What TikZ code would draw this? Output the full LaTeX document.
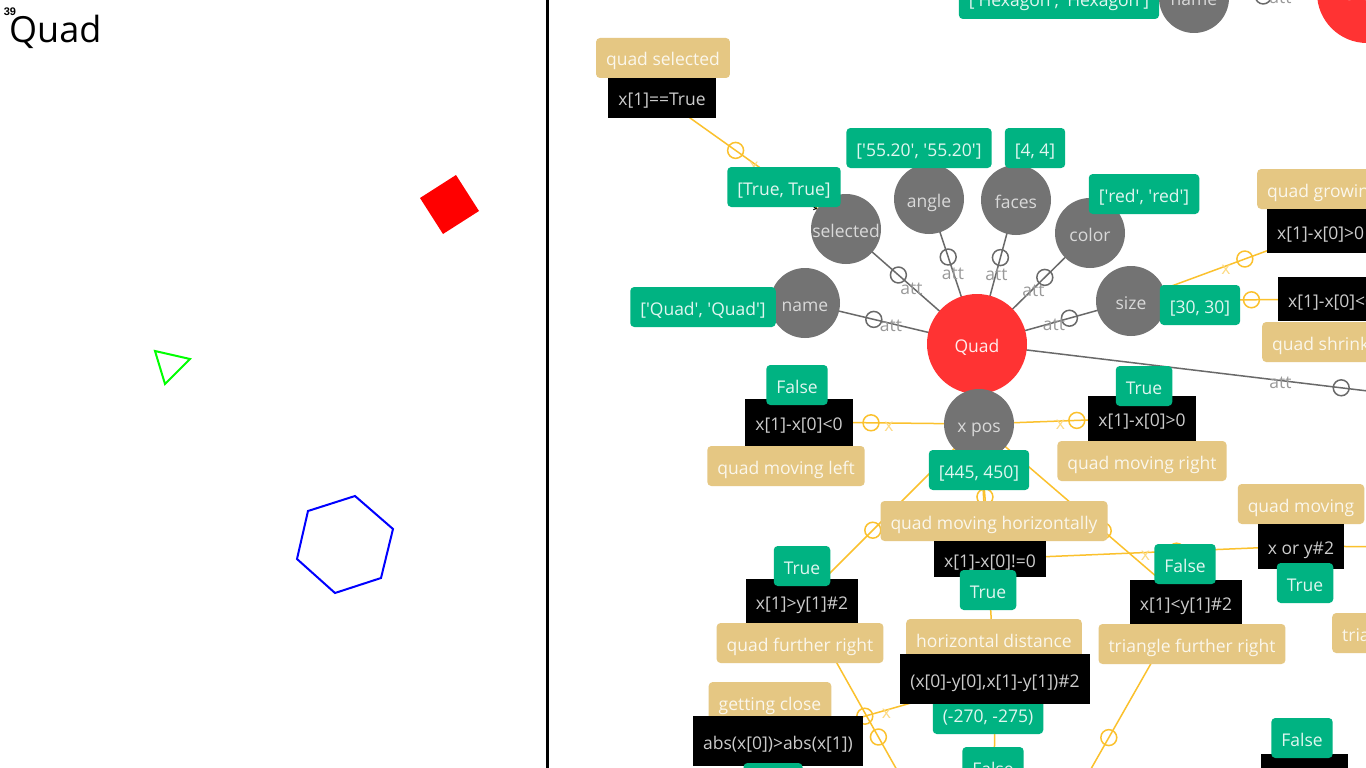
\documentclass[tikz,border=0pt]{standalone}
\usepackage{fontspec}
\setmainfont{Open Sans}
\newfontfamily\numfont{Liberation Sans}
\usepackage{xcolor}
\usetikzlibrary{backgrounds}
\definecolor{valgreen}{RGB}{0,179,130}
\definecolor{lbltan}{RGB}{229,199,131}
\definecolor{attgray}{RGB}{115,115,115}
\definecolor{objred}{RGB}{255,51,51}
\definecolor{linkorange}{RGB}{251,193,45}
\definecolor{linkgray}{RGB}{105,105,105}
\newcommand{\sq}{\textquotesingle}

\begin{document}
\begin{tikzpicture}[x=1pt, y=-1pt,
	every node/.style={font=\fontsize{17.5}{21}\selectfont, text height=16pt, text depth=0pt},
	attr/.style={circle, fill=attgray, text=white!85!black, minimum size=70pt, inner sep=0pt},
	obj/.style={circle, fill=objred, text=white!90!objred, minimum size=100pt, inner sep=0pt},
	val/.style={rectangle, rounded corners=4pt, fill=valgreen, text=white!88!valgreen, minimum height=40pt, inner xsep=10pt},
	lbl/.style={rectangle, rounded corners=4pt, fill=lbltan, text=white!85!lbltan, minimum height=40pt, inner xsep=10pt},
	cond/.style={rectangle, fill=black, text=white!80!black, minimum height=44pt, inner xsep=10pt},
	attline/.style={draw=linkgray, line width=1.5pt},
	condline/.style={draw=linkorange, line width=1.5pt},
	valarrow/.style={draw=black, line width=1pt, ->},
	attring/.style={circle, draw=linkgray, line width=1.5pt, minimum size=14pt, inner sep=0pt},
	condring/.style={circle, draw=linkorange, line width=1.5pt, minimum size=14pt, inner sep=0pt},
	attlbl/.style={text=black!40, inner sep=0pt},
	xlbl/.style={text=linkorange!60, inner sep=0pt}]
	\useasboundingbox (0,0) rectangle (1366,768);

	\node[font=\numfont\bfseries\fontsize{11}{12}\selectfont, inner sep=0pt] (num) at (10,8) {39};
	\node[font=\fontsize{36}{40}\selectfont, inner sep=0pt, anchor=base west] (title) at (9,43) {Quad};
	\fill[red] (420,198) -- (456,175) -- (479,211) -- (443,234) -- cycle;
	\draw[green, line width=2pt] (155,351) -- (190,359) -- (165,384) -- cycle;
	\draw[blue, line width=2pt] (308,511) -- (355,496) -- (393,529) -- (381,578) -- (335,593) -- (297,559) -- cycle;
	\draw[line width=3pt] (547,0) -- (547,768);

	\node[obj] (quad) at (977,344) {Quad};
	\node[obj] (hexagon) at (1367,-7) {Hexagon};
	\node[attr] (xpos) at (979,424) {x pos};
	\node[attr] (name) at (805,303) {name};
	\node[attr] (selected) at (846,229) {selected};
	\node[attr] (angle) at (929,199) {angle};
	\node[attr] (faces) at (1016,200) {faces};
	\node[attr] (color) at (1090,233) {color};
	\node[attr] (size) at (1131,301) {size};
	\node[attr] (hexname) at (1194,-2) {name};

	\node[lbl] (sell) at (663,58) {quad selected};
	\node[lbl, anchor=west] (growl) at (1257,189) {quad growing};
	\node[lbl, anchor=west] (shrinkl) at (1262,342) {quad shrinking};
	\node[lbl] (leftl) at (786,466) {quad moving left};
	\node[lbl] (rightl) at (1142,461) {quad moving right};
	\node[lbl] (horizl) at (994,521) {quad moving horizontally};
	\node[lbl] (furtherl) at (800,643) {quad further right};
	\node[lbl] (distl) at (994,639) {horizontal distance};
	\node[lbl] (closel) at (770,702) {getting close};
	\node[lbl] (trifurtherl) at (1192,644) {triangle further right};
	\node[lbl] (movingl) at (1301,504) {quad moving};
	\node[lbl, anchor=west] (trimovingl) at (1332,633) {triangle moving};

	\node[val] (distr) at (988,714) {(-270, -275)};

	\node[cond, minimum height=40pt] (selc) at (662,98) {x[1]==True};
	\node[cond, anchor=west] (growc) at (1267,231) {x[1]-x[0]>0};
	\node[cond, anchor=west] (shrinkc) at (1278,299) {x[1]-x[0]<0};
	\node[cond, minimum height=47pt] (leftc) at (799,422) {x[1]-x[0]<0};
	\node[cond, minimum height=45pt] (rightc) at (1142,418) {x[1]-x[0]>0};
	\node[cond, minimum height=36pt] (horizc) at (990,559) {x[1]-x[0]!=0};
	\node[cond] (furtherc) at (802,601) {x[1]>y[1]\#2};
	\node[cond] (trifurtherc) at (1186,602) {x[1]<y[1]\#2};
	\node[cond, minimum height=45pt] (movingc) at (1301,546) {x or y\#2};
	\node[cond, minimum height=50pt] (distc) at (995,679) {(x[0]-y[0],x[1]-y[1])\#2};
	\node[cond, minimum height=50pt] (closec) at (778,741) {abs(x[0])>abs(x[1])};
	\node[cond, minimum width=87pt] (bottomc) at (1304,776) {};

	\node[val] (hexv) at (1059,-1) {[\sq{}Hexagon\sq, \sq{}Hexagon\sq]};
	\node[val] (anglev) at (919,148) {[\sq55.20\sq, \sq55.20\sq]};
	\node[val] (facesv) at (1035,148) {[4, 4]};
	\node[val] (colorv) at (1144,194) {[\sq{}red\sq, \sq{}red\sq]};
	\node[val] (selv) at (784,187) {[True, True]};
	\node[val] (namev) at (703,307) {[\sq{}Quad\sq, \sq{}Quad\sq]};
	\node[val] (sizev) at (1200,305) {[30, 30]};
	\node[val] (xposv) at (979,470) {[445, 450]};
	\node[val] (leftr) at (797,385) {False};
	\node[val] (rightr) at (1144,386) {True};
	\node[val] (furtherr) at (802,566) {True};
	\node[val] (horizr) at (988,590) {True};
	\node[val] (trifurtherr) at (1185,564) {False};
	\node[val] (movingr) at (1305,583) {True};
	\node[val] (distbelowr) at (993,767) {False};
	\node[val, minimum width=59pt] (closer) at (773,783) {};
	\node[val] (bottomr) at (1302,738) {False};

	\coordinate (tri) at (1584,417);
	\coordinate (txpos) at (993,941);
	\coordinate (offr) at (1480,548);

	\begin{scope}[on background layer]
		\fill[white] (0,0) rectangle (1366,768);
		\draw[attline] (quad.center) -- (name.center) node[attring, pos=.6]{} node[attlbl, pos=.5]{att};
		\draw[attline] (quad.center) -- (selected.center) node[attring, pos=.6]{} node[attlbl, pos=.5]{att};
		\draw[attline] (quad.center) -- (angle.center) node[attring, pos=.6]{} node[attlbl, pos=.5]{att};
		\draw[attline] (quad.center) -- (faces.center) node[attring, pos=.6]{} node[attlbl, pos=.5]{att};
		\draw[attline] (quad.center) -- (color.center) node[attring, pos=.6]{} node[attlbl, pos=.5]{att};
		\draw[attline] (quad.center) -- (size.center) node[attring, pos=.6]{} node[attlbl, pos=.5]{att};
		\draw[attline] (quad.center) -- (tri) node[attring, pos=.6]{} node[attlbl, pos=.5]{att};
		\draw[attline] (hexagon.center) -- (hexname.center) node[attring, pos=.6]{} node[attlbl, pos=.5]{att};

		\draw[condline] (selected.center) -- (selc.center) node[condring, pos=.6]{} node[xlbl, pos=.5]{x};
		\draw[condline] (xpos.center) -- (leftc.center) node[condring, pos=.6]{} node[xlbl, pos=.5]{x};
		\draw[condline] (xpos.center) -- (rightc.center) node[condring, pos=.6]{} node[xlbl, pos=.5]{x};
		\draw[condline] (size.center) -- (growc.center) node[condring, pos=.6]{} node[xlbl, pos=.5]{x};
		\draw[condline] (size.center) -- (shrinkc.center) node[condring, pos=.6]{};
		\draw[condline] (xpos.center) -- (furtherc.center) node[condring, pos=.6]{};
		\draw[condline] (xpos.center) -- (trifurtherc.center) node[condring, pos=.6]{};
		\draw[condline] (xpos.center) -- (horizc.center) node[condring, pos=.54]{};
		\draw[condline] (xpos.center) -- (distc.center);
		\draw[condline] (horizc.center) -- (movingc.center) node[condring, pos=.6]{} node[xlbl, pos=.5]{x};
		\draw[condline] (movingc.center) -- (offr);
		\draw[condline] (distc.center) -- (closec.center) node[condring, pos=.6]{} node[xlbl, pos=.5]{x};
		\draw[condline] (txpos) -- (furtherc.center) node[condring, pos=.6]{};
		\draw[condline] (txpos) -- (trifurtherc.center) node[condring, pos=.6]{};
		\draw[condline] (txpos) -- (distc.center);

		\draw[valarrow] (hexv) -- (hexname);
		\draw[valarrow] (anglev) -- (angle);
		\draw[valarrow] (facesv) -- (faces);
		\draw[valarrow] (colorv) -- (color);
		\draw[valarrow] (selv) -- (selected);
		\draw[valarrow] (namev) -- (name);
		\draw[valarrow] (sizev) -- (size);
		\draw[valarrow] (xposv) -- (xpos);
	\end{scope}
\end{tikzpicture}
\end{document}
